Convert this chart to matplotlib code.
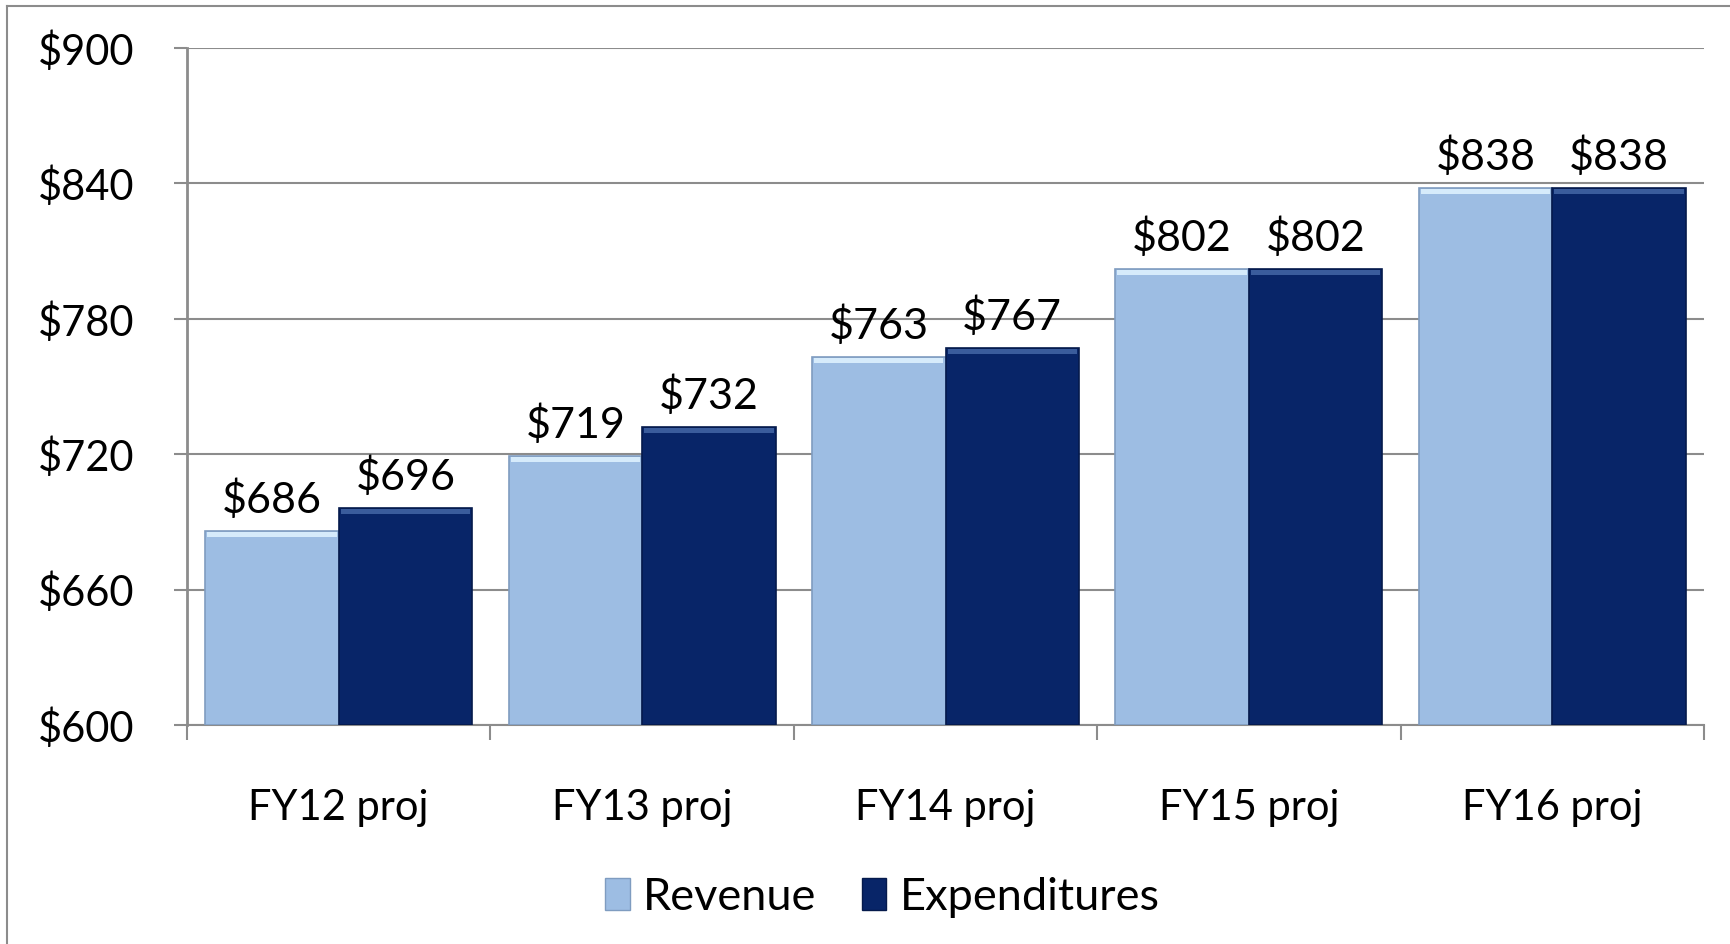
import numpy as np
import matplotlib.pyplot as plt
from matplotlib.patches import Patch
from matplotlib.lines import Line2D

plt.rcParams['font.family'] = ['Lato', 'DejaVu Sans']

# Data
categories = ['FY12 proj', 'FY13 proj', 'FY14 proj', 'FY15 proj', 'FY16 proj']
revenue = [686, 719, 763, 802, 838]
expenditures = [696, 732, 767, 802, 838]
y_ticks = [600, 660, 720, 780, 840, 900]

rev_color = '#9dbde3'
exp_color = '#082568'
grid_color = '#8c8c8c'
fs = 30

fig = plt.figure(figsize=(17.3, 9.44), dpi=100)
ax = fig.add_axes([187 / 1730, 1 - 725 / 944, (1704 - 187) / 1730, (725 - 48) / 944])

x = np.arange(len(categories))
w = 0.44

def bevel_bars(xpos, vals, color, top_color, edge):
    bars = ax.bar(xpos, np.array(vals) - 600, w, bottom=600, color=color,
                  edgecolor=edge, linewidth=1.2, zorder=3)
    # light strip along the top to mimic the bevel
    ax.bar(xpos, 2.2, w * 0.97, bottom=np.array(vals) - 2.6, color=top_color,
           linewidth=0, zorder=4)
    return bars

bevel_bars(x - w / 2, revenue, rev_color, '#d6ebfb', '#7f9cc0')
bevel_bars(x + w / 2, expenditures, exp_color, '#3a5c9c', '#051a4c')

for xi, v in zip(x - w / 2, revenue):
    ax.annotate(f'${v}', (xi, v), xytext=(0, 8), textcoords='offset points',
                ha='center', va='bottom', fontsize=31)
for xi, v in zip(x + w / 2, expenditures):
    ax.annotate(f'${v}', (xi, v), xytext=(0, 8), textcoords='offset points',
                ha='center', va='bottom', fontsize=31)

ax.set_xlim(-0.5, len(categories) - 0.5)
ax.set_ylim(600, 900)
ax.set_yticks(y_ticks)
ax.set_yticklabels([f'${t}' for t in y_ticks], fontsize=fs)
ax.yaxis.grid(True, color=grid_color, linewidth=1.5, zorder=0)
ax.set_axisbelow(True)

ax.set_xticks(x)
ax.set_xticklabels(categories, fontsize=fs)
ax.set_xticks(np.arange(len(categories) + 1) - 0.5, minor=True)
ax.tick_params(axis='x', which='major', length=0, pad=46)
ax.tick_params(axis='x', which='minor', length=11, width=1.5, color=grid_color, direction='out')
ax.tick_params(axis='y', length=9.5, width=1.5, color=grid_color, pad=28)

for s in ['top', 'right']:
    ax.spines[s].set_visible(False)
ax.spines['left'].set_color(grid_color)
ax.spines['left'].set_linewidth(2)
ax.spines['bottom'].set_color(grid_color)
ax.spines['bottom'].set_linewidth(1.5)

handles = [Patch(facecolor=rev_color, edgecolor='#7f9cc0', label='Revenue'),
           Patch(facecolor=exp_color, edgecolor='#051a4c', label='Expenditures')]
fig.legend(handles=handles, loc='center', bbox_to_anchor=(0.51, 1 - 897 / 944),
           ncol=2, frameon=False, fontsize=32.5, handlelength=0.55, handleheight=0.7,
           handletextpad=0.3, columnspacing=1.0)

# outer chart border (top and left visible)
fig.add_artist(Line2D([7 / 1730, 7 / 1730], [0, 1 - 6 / 944], color='#8c8c8c', linewidth=1.5))
fig.add_artist(Line2D([7 / 1730, 1], [1 - 6 / 944, 1 - 6 / 944], color='#8c8c8c', linewidth=1.5))

fig.savefig('out.png', dpi=100)
